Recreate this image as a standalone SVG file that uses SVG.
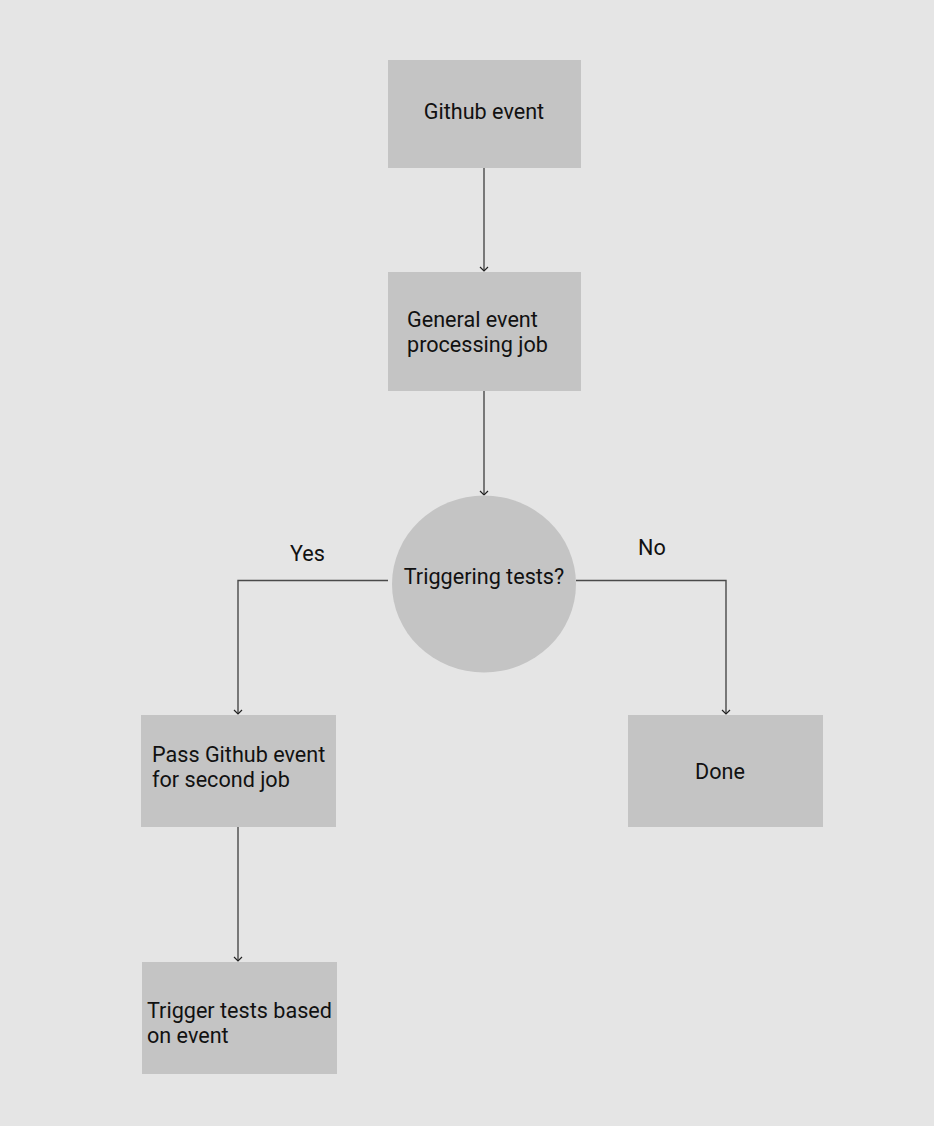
<svg xmlns="http://www.w3.org/2000/svg" width="934" height="1126" viewBox="0 0 934 1126">
<style>
.node{fill:#c4c4c4;}
.lbl{font-family:Roboto,"Liberation Sans",sans-serif;font-size:21.6px;fill:#111;}
.c{text-anchor:middle;}
.edge{fill:none;stroke:#4a4a4a;stroke-width:1.4;}
</style>
<defs>
<marker id="arr" markerWidth="12" markerHeight="12" refX="6" refY="6" orient="auto" markerUnits="userSpaceOnUse">
<path d="M2,2 L6,6 L2,10" fill="none" stroke="#222" stroke-width="1.2"/>
</marker>
</defs>
<rect width="934" height="1126" fill="#e5e5e5"/>
<g id="connectors">
<path class="edge" d="M484,168 V271" marker-end="url(#arr)"/>
<path class="edge" d="M484,391 V495" marker-end="url(#arr)"/>
<path class="edge" d="M388,580.5 H238 V714" marker-end="url(#arr)"/>
<path class="edge" d="M576,580.5 H726 V714" marker-end="url(#arr)"/>
<path class="edge" d="M238,827 V961" marker-end="url(#arr)"/>
<text class="lbl" x="290" y="561">Yes</text>
<text class="lbl" x="638" y="555">No</text>
</g>
<g id="github-event">
<rect class="node" x="388" y="60" width="193" height="108"/>
<text class="lbl c" x="484" y="119">Github event</text>
</g>
<g id="general-job">
<rect class="node" x="388" y="272" width="193" height="119"/>
<text class="lbl" x="407" y="327">General event</text>
<text class="lbl" x="407" y="352">processing job</text>
</g>
<g id="decision">
<ellipse class="node" cx="484" cy="584" rx="92" ry="88.5"/>
<text class="lbl c" x="484" y="584">Triggering tests?</text>
</g>
<g id="pass-event">
<rect class="node" x="141" y="715" width="195" height="112"/>
<text class="lbl" x="152" y="762">Pass Github event</text>
<text class="lbl" x="152" y="787">for second job</text>
</g>
<g id="trigger-tests">
<rect class="node" x="142" y="962" width="195" height="112"/>
<text class="lbl" x="147" y="1018">Trigger tests based</text>
<text class="lbl" x="147" y="1043">on event</text>
</g>
<g id="done">
<rect class="node" x="628" y="715" width="195" height="112"/>
<text class="lbl c" x="720" y="779">Done</text>
</g>
</svg>
